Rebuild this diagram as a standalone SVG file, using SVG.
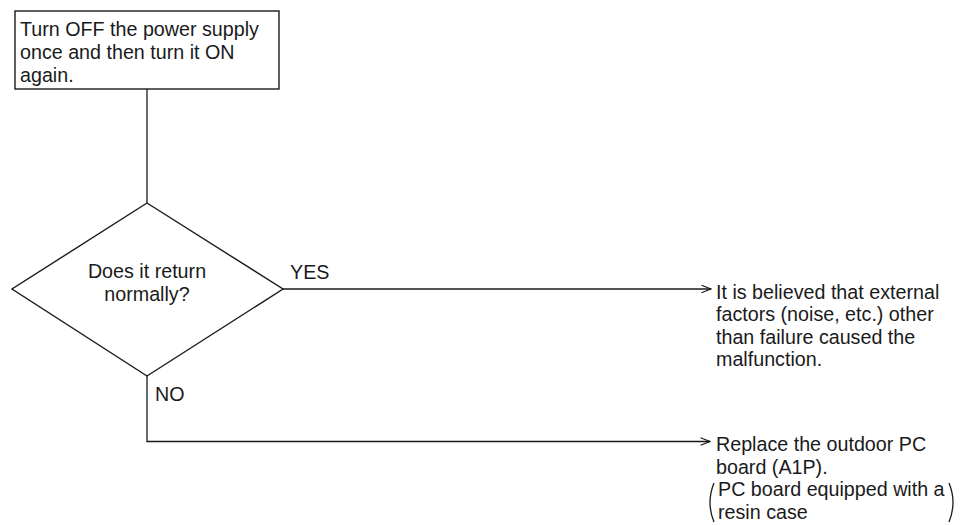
<svg xmlns="http://www.w3.org/2000/svg" width="963" height="525" viewBox="0 0 963 525">
  <style>
    .shape { fill: #ffffff; stroke: #1a1a1a; stroke-width: 1.4; }
    .wire { fill: none; stroke: #1a1a1a; stroke-width: 1.3; }
    .txt { font-family: "Liberation Sans", Arial, sans-serif; font-size: 19.7px; fill: #1a1a1a; }
    .mid { text-anchor: middle; }
    .paren { fill: none; stroke: #1a1a1a; stroke-width: 1.3; }
  </style>
  <defs>
    <marker id="arrowOpen" markerUnits="userSpaceOnUse" viewBox="0 0 12 10" refX="11" refY="5" markerWidth="12" markerHeight="10" orient="auto">
      <path d="M1.5,1.2 L11,5 L1.5,8.8" fill="none" stroke="#1a1a1a" stroke-width="1.2"/>
    </marker>
  </defs>

  <rect width="963" height="525" fill="#ffffff"/>

  <!-- connectors -->
  <g id="connectors">
    <path class="wire" d="M147,89 V203"/>
    <path class="wire" d="M283,289 H711" marker-end="url(#arrowOpen)"/>
    <path class="wire" d="M147,376 V441.5 H710" marker-end="url(#arrowOpen)"/>
    <text class="txt" x="290" y="279">YES</text>
    <text class="txt" x="155" y="400.5">NO</text>
  </g>

  <!-- start step -->
  <g id="node-power-cycle">
    <rect class="shape" x="15" y="11" width="264" height="78"/>
    <text class="txt" x="20" y="36">Turn OFF the power supply</text>
    <text class="txt" x="20" y="58.8">once and then turn it ON</text>
    <text class="txt" x="20" y="81.5">again.</text>
  </g>

  <!-- decision -->
  <g id="node-decision">
    <polygon class="shape" points="147,203 283,289 147,376 12,289"/>
    <text class="txt mid" x="147" y="278">Does it return</text>
    <text class="txt mid" x="147" y="301">normally?</text>
  </g>

  <!-- outcome: normal return -->
  <g id="node-external-factors">
    <text class="txt" x="716" y="298.5">It is believed that external</text>
    <text class="txt" x="716" y="321">factors (noise, etc.) other</text>
    <text class="txt" x="716" y="343.5">than failure caused the</text>
    <text class="txt" x="716" y="366">malfunction.</text>
  </g>

  <!-- outcome: replace board -->
  <g id="node-replace-board">
    <text class="txt" x="716" y="451">Replace the outdoor PC</text>
    <text class="txt" x="716" y="473.5">board (A1P).</text>
    <text class="txt" x="718" y="496">PC board equipped with a</text>
    <text class="txt" x="718" y="518.5">resin case</text>
    <path class="paren" d="M714,483 Q706,502.5 714,522"/>
    <path class="paren" d="M949,483 Q957,502.5 949,522"/>
  </g>
</svg>
